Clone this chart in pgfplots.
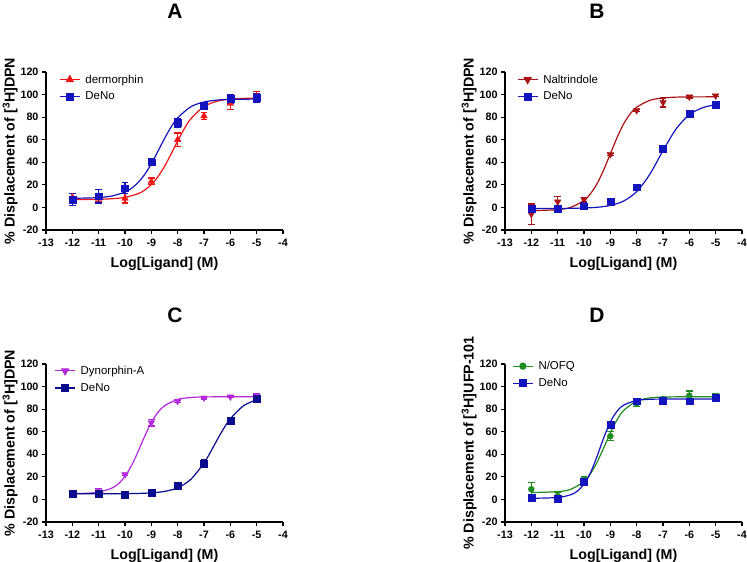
\documentclass[border=0pt]{standalone}
\usepackage{fontspec}
\setmainfont{Liberation Sans}
\usepackage{pgfplots}
\pgfplotsset{compat=1.18}

\definecolor{cRed}{RGB}{240,20,20}
\definecolor{cBlue}{RGB}{20,20,190}
\definecolor{cDkRed}{RGB}{170,20,20}
\definecolor{cPurple}{RGB}{180,40,220}
\definecolor{cNavy}{RGB}{10,10,140}
\definecolor{cGreen}{RGB}{30,140,30}

\pgfplotsset{
  panel/.style={
    scale only axis, width=237bp, height=158bp,
    xmin=-13, xmax=-4, ymin=-20, ymax=120,
    xtick={-13,...,-4}, ytick={-20,0,...,120},
    axis lines=left, axis line style={-, line width=1.3bp},
    tick align=outside, major tick length=4bp,
    tick style={black, line width=1.1bp},
    tick label style={font=\bfseries\fontsize{10.8}{12}\selectfont},
    xticklabel style={yshift=-1.5bp},
    /pgf/number format/assume math mode=true,
    xlabel={Log[Ligand] (M)},
    label style={font=\bfseries\fontsize{14.3}{16}\selectfont},
    xlabel style={yshift=-4bp},
    ylabel shift=-4bp,
    clip=false,
    legend cell align=left,
    legend style={draw=none, fill=none, anchor=north west,
      font=\fontsize{11.5}{13}\selectfont, inner sep=0pt, row sep=5.5bp,
      column sep=4bp, nodes={inner sep=1bp}},
    legend image code/.code={\draw[mark repeat=2,mark phase=2,##1]
      plot coordinates {(0bp,0bp)(10bp,0bp)(20bp,0bp)};},
  },
  pts/.style={only marks, forget plot,
    error bars/.cd, y dir=both, y explicit,
    error bar style={line width=1.2bp},
    error mark options={rotate=90, line width=1.2bp, mark size=3.2bp}},
  fit/.style={no marks, line width=1.2bp, smooth, forget plot},
  tri/.style={mark=triangle*, mark size=3.8bp},
  itri/.style={mark=triangle*, mark size=3.8bp, mark options={rotate=180}},
  sq/.style={mark=square*, mark size=3.4bp},
  circ/.style={mark=*, mark size=3bp},
}

\begin{document}
\begin{tikzpicture}[x=1bp, y=1bp]
\useasboundingbox[fill=white] (0,0) rectangle (747,562);

% ---------------- A ----------------
\begin{axis}[panel, at={(46bp,332bp)}, anchor=south west,
  ylabel={\% Displacement of [\textsuperscript{3}H]DPN},
  legend style={at={(axis description cs:0.055,0.99)}}]
\addlegendimage{cRed, line width=1.2bp, tri}
\addlegendentry{dermorphin}
\addlegendimage{cBlue, line width=1.2bp, sq}
\addlegendentry{DeNo}
\addplot[cRed, fit] coordinates {
  (-12,7.0) (-11,7.2) (-10.5,7.7) (-10,8.9) (-9.5,12.2) (-9.25,15.4)
  (-9,20.2) (-8.75,27.2) (-8.5,36.3) (-8.25,47.3) (-8,58.9) (-7.75,69.6)
  (-7.5,78.5) (-7,89.4) (-6.5,94.1) (-6,96.0) (-5.5,96.6) (-5,96.9)};
\addplot[cBlue, fit] coordinates {
  (-12,8.1) (-11.5,8.3) (-11,8.7) (-10.5,10.1) (-10,13.6) (-9.75,17.0)
  (-9.5,22.1) (-9.25,29.3) (-9,38.7) (-8.75,49.7) (-8.5,61.0) (-8.25,71.2)
  (-8,79.3) (-7.5,89.2) (-7,93.4) (-6.5,95.1) (-6,95.7) (-5,96.0)};
\addplot[cRed, tri, pts] coordinates {
  (-12,9) +- (0,3) (-11,8) +- (0,3) (-10,8) +- (0,4) (-9,23) +- (0,3)
  (-8,60) +- (0,6) (-7,81) +- (0,3) (-6,92) +- (0,5) (-5,98) +- (0,5)};
\addplot[cBlue, sq, pts] coordinates {
  (-12,7) +- (0,5) (-11,10) +- (0,6) (-10,17) +- (0,5) (-9,40) +- (0,3)
  (-8,75) +- (0,4) (-7,90) +- (0,2) (-6,96) +- (0,4) (-5,97) +- (0,4)};
\end{axis}

% ---------------- B ----------------
\begin{axis}[panel, at={(505bp,332bp)}, anchor=south west,
  ylabel={\% Displacement of [\textsuperscript{3}H]DPN},
  legend style={at={(axis description cs:0.05,0.99)}}]
\addlegendimage{cDkRed, line width=1.2bp, itri}
\addlegendentry{Naltrindole}
\addlegendimage{cBlue, line width=1.2bp, sq}
\addlegendentry{DeNo}
\addplot[cDkRed, fit] coordinates {
  (-12,-2.9) (-11,-2.0) (-10.5,0.1) (-10,6.2) (-9.75,12.3) (-9.5,21.2)
  (-9.25,33.4) (-9,47.5) (-8.75,61.6) (-8.5,73.8) (-8.25,82.8) (-8,88.8)
  (-7.5,94.9) (-7,97.0) (-6.5,97.7) (-6,97.9) (-5,98.0)};
\addplot[cBlue, fit] coordinates {
  (-12,-1.0) (-11,-0.9) (-10.5,-0.8) (-10,-0.5) (-9.5,0.1) (-9,1.8)
  (-8.5,5.6) (-8,14.0) (-7.5,29.4) (-7,50.3) (-6.5,69.6) (-6,82.1)
  (-5.5,88.3) (-5,91.1)};
\addplot[cDkRed, itri, pts] coordinates {
  (-12,-6) +- (0,9) (-11,5) +- (0,5) (-10,7) +- (0,2) (-9,47) +- (0,1)
  (-8,86) +- (0,1) (-7,93) +- (0,4) (-6,98) +- (0,1) (-5,99) +- (0,1)};
\addplot[cBlue, sq, pts] coordinates {
  (-12,-1) +- (0,2) (-11,-1) +- (0,3) (-10,1) +- (0,3) (-9,5) +- (0,3)
  (-8,18) +- (0,2) (-7,52) +- (0,3) (-6,83) +- (0,1) (-5,91) +- (0,1)};
\end{axis}

% ---------------- C ----------------
\begin{axis}[panel, at={(46bp,40bp)}, anchor=south west,
  ylabel={\% Displacement of [\textsuperscript{3}H]DPN},
  legend style={at={(axis description cs:0.035,0.995)}}]
\addlegendimage{cPurple, line width=1.2bp, itri}
\addlegendentry{Dynorphin-A}
\addlegendimage{cNavy, line width=1.2bp, sq}
\addlegendentry{DeNo}
\addplot[cPurple, fit] coordinates {
  (-12,5.1) (-11.5,5.4) (-11,6.5) (-10.5,10.0) (-10.25,13.9) (-10,20.5)
  (-9.75,30.1) (-9.5,42.6) (-9.25,56.1) (-9,68.1) (-8.75,77.1) (-8.5,83.0)
  (-8,88.6) (-7.5,90.3) (-7,90.8) (-6,91.0) (-5,91.0)};
\addplot[cNavy, fit] coordinates {
  (-12,5.0) (-11,5.0) (-10,5.1) (-9.5,5.3) (-9,5.8) (-8.5,7.1) (-8,10.3)
  (-7.5,17.8) (-7,32.3) (-6.75,42.1) (-6.5,52.8) (-6.25,62.9) (-6,71.5)
  (-5.5,83.0) (-5,88.3)};
\addplot[cPurple, itri, pts] coordinates {
  (-12,5) +- (0,1) (-11,7) +- (0,3) (-10,22) +- (0,1) (-9,68) +- (0,3)
  (-8,87) +- (0,1) (-7,90) +- (0,1) (-6,91) +- (0,1) (-5,91.5) +- (0,2)};
\addplot[cNavy, sq, pts] coordinates {
  (-12,5) +- (0,1) (-11,5) +- (0,1) (-10,4.5) +- (0,1) (-9,6) +- (0,1)
  (-8,12) +- (0,1) (-7,32) +- (0,3) (-6,70) +- (0,1) (-5,89) +- (0,1)};
\end{axis}

% ---------------- D ----------------
\begin{axis}[panel, at={(505bp,40bp)}, anchor=south west,
  ylabel={\% Displacement of [\textsuperscript{3}H]UFP-101},
  legend style={at={(axis description cs:0.03,1.025)}}]
\addlegendimage{cGreen, line width=1.2bp, circ}
\addlegendentry{N/OFQ}
\addlegendimage{cBlue, line width=1.2bp, sq}
\addlegendentry{DeNo}
\addplot[cGreen, fit] coordinates {
  (-12,6.1) (-11,6.9) (-10.5,9.0) (-10,15.9) (-9.75,22.9) (-9.5,33.1)
  (-9.25,45.8) (-9,59.0) (-8.75,70.3) (-8.5,78.7) (-8,87.1) (-7.5,89.9)
  (-7,90.7) (-6,91.0) (-5,91.0)};
\addplot[cBlue, fit] coordinates {
  (-12,1.0) (-11,1.7) (-10.5,4.2) (-10.25,7.4) (-10,13.5) (-9.75,23.8)
  (-9.5,38.5) (-9.25,54.7) (-9,68.6) (-8.75,78.0) (-8.5,83.5) (-8,87.7)
  (-7.5,88.7) (-7,88.9) (-5,89.0)};
\addplot[cGreen, circ, pts] coordinates {
  (-12,9) +- (0,6) (-11,3) +- (0,3) (-10,18) +- (0,2) (-9,56) +- (0,4)
  (-8,85) +- (0,3) (-7,89) +- (0,1) (-6,92) +- (0,4) (-5,91) +- (0,3)};
\addplot[cBlue, sq, pts] coordinates {
  (-12,1.6) +- (0,2) (-11,0.5) +- (0,2) (-10,15.5) +- (0,2) (-9,66) +- (0,3)
  (-8,87) +- (0,2) (-7,87.5) +- (0,1) (-6,87) +- (0,2) (-5,90) +- (0,2)};
\end{axis}

% panel titles
\node[font=\bfseries\fontsize{21}{24}\selectfont] at (175,551) {A};
\node[font=\bfseries\fontsize{21}{24}\selectfont] at (597,551) {B};
\node[font=\bfseries\fontsize{21}{24}\selectfont] at (175,247) {C};
\node[font=\bfseries\fontsize{21}{24}\selectfont] at (597,247) {D};
\end{tikzpicture}
\end{document}
